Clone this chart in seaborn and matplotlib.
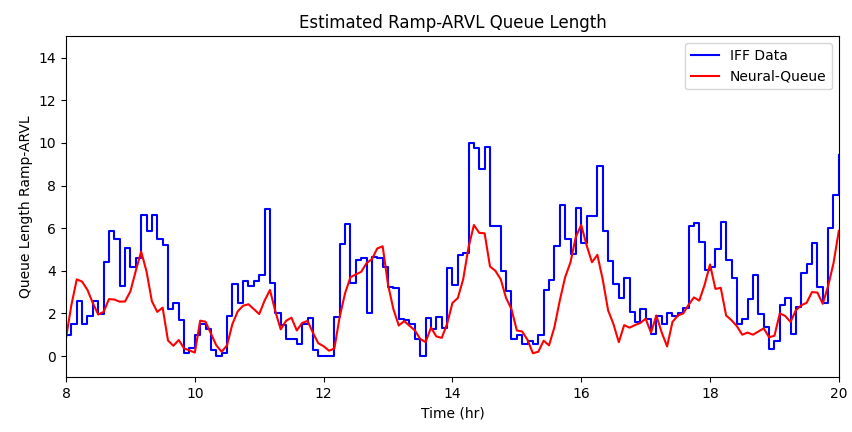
import numpy as np
import pandas as pd
import seaborn as sns
import matplotlib
matplotlib.use("Agg")
import matplotlib.pyplot as plt

# 5-minute samples from 8:00 to 20:00
time_hr = 8 + np.arange(145) / 12

iff_data = [
    1.0, 1.5, 2.6, 1.5, 1.9, 2.6, 1.95, 4.4, 5.85, 5.5, 3.3, 5.05, 4.2, 4.6, 6.6, 5.85,
    6.6, 5.5, 5.2, 2.2, 2.5, 1.7, 0.12, 0.38, 1.0, 1.5, 1.27, 0.3, 0.0, 0.13, 1.9, 3.4,
    2.5, 3.5, 3.3, 3.5, 3.8, 6.9, 3.45, 2.0, 1.45, 0.82, 0.8, 0.55, 1.5, 1.8, 0.28, 0.0,
    0.0, 0.0, 1.85, 5.25, 6.2, 3.45, 4.5, 4.6, 2.0, 4.66, 4.6, 4.2, 3.25, 3.2, 1.75, 1.7,
    1.5, 0.8, 0.0, 1.8, 1.25, 1.85, 1.3, 4.15, 3.35, 4.75, 4.85, 10.0, 9.75, 8.8, 9.8, 6.1,
    6.1, 4.0, 3.05, 0.82, 1.0, 0.58, 0.72, 0.58, 1.0, 3.1, 3.55, 5.15, 7.1, 5.5, 4.8, 6.96,
    5.3, 6.55, 6.55, 8.9, 5.85, 4.45, 3.36, 2.7, 3.65, 2.05, 1.6, 2.2, 1.74, 1.02, 1.9, 1.52,
    2.0, 1.88, 2.0, 2.24, 6.1, 6.25, 5.33, 4.03, 4.2, 5.0, 6.3, 4.5, 3.68, 1.5, 1.73, 2.66,
    3.8, 1.96, 1.36, 0.31, 0.7, 2.4, 2.7, 1.05, 2.3, 3.9, 4.3, 5.3, 3.24, 2.5, 6.0, 7.55,
    9.45,
]

neural_queue = [
    0.85, 2.39, 3.6, 3.49, 3.1, 2.48, 1.95, 2.07, 2.67, 2.65, 2.55, 2.56, 3.04, 4.0, 4.9, 3.97,
    2.57, 2.07, 2.27, 0.73, 0.48, 0.75, 0.36, 0.26, 0.16, 1.66, 1.61, 1.05, 0.5, 0.2, 0.5, 1.5,
    2.1, 2.36, 2.43, 2.2, 1.97, 2.6, 3.1, 2.1, 1.25, 1.65, 1.8, 1.2, 1.55, 1.65, 1.1, 0.6,
    0.46, 0.25, 0.35, 1.85, 2.95, 3.7, 3.83, 3.95, 4.36, 4.55, 5.05, 5.15, 3.35, 2.2, 1.43, 1.64,
    1.42, 1.2, 0.8, 0.65, 1.33, 0.92, 0.85, 1.5, 2.49, 2.72, 3.6, 5.1, 6.15, 5.78, 5.76, 4.2,
    4.0, 3.6, 2.72, 2.2, 1.2, 1.15, 0.75, 0.13, 0.2, 0.72, 0.5, 1.35, 2.6, 3.7, 4.4, 5.6,
    6.15, 5.2, 4.4, 4.75, 3.6, 2.15, 1.5, 0.65, 1.45, 1.33, 1.45, 1.55, 1.75, 1.1, 1.9, 1.1,
    0.45, 1.6, 1.9, 2.0, 2.4, 2.75, 2.6, 3.35, 4.3, 3.15, 3.2, 1.9, 1.68, 1.4, 1.0, 1.1,
    1.0, 1.15, 1.3, 0.88, 0.95, 2.0, 1.88, 1.6, 2.15, 2.38, 2.5, 3.0, 2.98, 2.45, 3.28, 4.35,
    5.88,
]

df = pd.DataFrame({"time": time_hr, "iff": iff_data, "nq": neural_queue})

fig = plt.figure(figsize=(8.53, 4.32), dpi=100)
ax = fig.add_axes([0.0774, 0.1266, 0.906, 0.789])

sns.lineplot(data=df, x="time", y="iff", ax=ax, color="blue", label="IFF Data",
             drawstyle="steps-post", linewidth=1.5)
sns.lineplot(data=df, x="time", y="nq", ax=ax, color="red", label="Neural-Queue",
             linewidth=1.5)

ax.set_xlim(8, 20)
ax.set_ylim(-1, 15)
ax.set_xticks(range(8, 21, 2))
ax.set_yticks(range(0, 15, 2))
ax.set_title("Estimated Ramp-ARVL Queue Length")
ax.set_xlabel("Time (hr)")
ax.set_ylabel("Queue Length Ramp-ARVL")
ax.legend(loc="upper right")

fig.savefig("out.png", dpi=100)
